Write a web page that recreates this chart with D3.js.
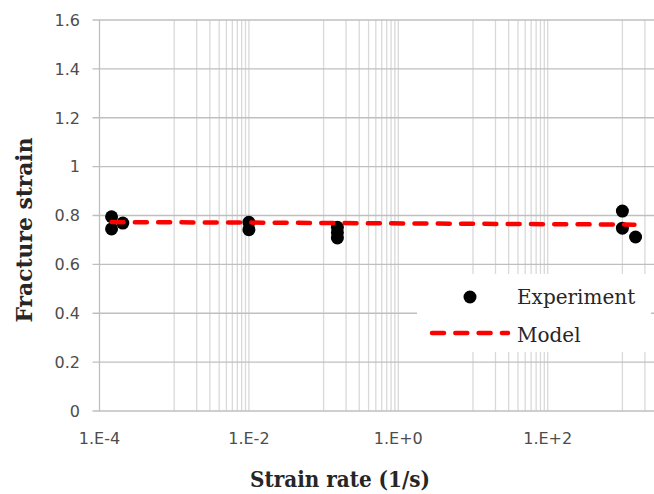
<!DOCTYPE html>
<html>
<head>
<meta charset="utf-8">
<script src="https://cdn.jsdelivr.net/npm/d3@7/dist/d3.min.js"></script>
<style>
  html, body { margin: 0; padding: 0; background: #ffffff; }
  svg { display: block; }
</style>
</head>
<body>
<div id="chart"></div>
<script>
// ---- data ----
const expRate   = [1.45e-4, 1.45e-4, 2.05e-4, 1.0e-2, 1.0e-2, 0.153, 0.153, 0.153, 1.0e3, 1.0e3, 1.5e3];
const expStrain = [0.795,   0.745,   0.769,   0.772,  0.742,  0.752, 0.730, 0.708, 0.818, 0.748, 0.712];
const modelRate   = [1.45e-4, 1.0e-2, 0.153, 1.0e3, 1.45e3];
const modelStrain = [0.773,   0.771,  0.769, 0.763, 0.762];
const xTickValues = [1e-4, 1e-2, 1e0, 1e2];
const xTickLabels = ["1.E-4", "1.E-2", "1.E+0", "1.E+2"];
const yTickValues = [0, 0.2, 0.4, 0.6, 0.8, 1, 1.2, 1.4, 1.6];
const legendNames = ["Experiment", "Model"];
const xTitle = "Strain rate (1/s)";
const yTitle = "Fracture strain";

// ---- layout ----
const W = 654, H = 494;
const plotLeft = 99.5, plotTop = 20, plotBottom = 411;
const decade = 74.7;
const plotRight = plotLeft + 8 * decade;

const svg = d3.select("#chart").append("svg")
  .attr("width", W).attr("height", H)
  .style("background", "#ffffff");

const x = d3.scaleLog().domain([1e-4, 1e4]).range([plotLeft, plotRight]);
const y = d3.scaleLinear().domain([0, 1.6]).range([plotBottom, plotTop]);

// vertical gridlines (log base 100 -> minor lines in odd decades)
const vLines = [];
for (let e = -4; e <= 4; e += 2) vLines.push(Math.pow(10, e));
for (let e = -3; e <= 3; e += 2) for (let k = 1; k <= 9; k++) vLines.push(k * Math.pow(10, e));

svg.append("g").selectAll("line").data(vLines.filter(v => v > 1e-4)).join("line")
  .attr("x1", d => x(d)).attr("x2", d => x(d))
  .attr("y1", y(1.6)).attr("y2", y(0))
  .attr("stroke", "#d9d9d9").attr("stroke-width", 1.3);

// horizontal gridlines with outward ticks
svg.append("g").selectAll("line").data(yTickValues).join("line")
  .attr("x1", plotLeft - 7).attr("x2", plotRight)
  .attr("y1", d => y(d)).attr("y2", d => y(d))
  .attr("stroke", "#bfbfbf").attr("stroke-width", 1.3);

// left axis line
svg.append("line")
  .attr("x1", plotLeft).attr("x2", plotLeft)
  .attr("y1", y(1.6)).attr("y2", y(0))
  .attr("stroke", "#bfbfbf").attr("stroke-width", 1.3);

// y tick labels
svg.append("g").selectAll("text").data(yTickValues).join("text")
  .attr("x", 80).attr("y", d => y(d))
  .attr("dy", "0.36em")
  .attr("text-anchor", "end")
  .attr("font-family", "DejaVu Sans, sans-serif")
  .attr("font-size", 16)
  .attr("fill", "#4d4d4d")
  .text(d => String(d));

// x tick labels
svg.append("g").selectAll("text").data(xTickValues).join("text")
  .attr("x", d => x(d)).attr("y", 444)
  .attr("text-anchor", "middle")
  .attr("font-family", "DejaVu Sans, sans-serif")
  .attr("font-size", 16)
  .attr("fill", "#4d4d4d")
  .text((d, i) => xTickLabels[i]);

// experiment markers
svg.append("g").selectAll("circle").data(expRate.map((r, i) => [r, expStrain[i]])).join("circle")
  .attr("cx", d => x(d[0])).attr("cy", d => y(d[1]))
  .attr("r", 6.5).attr("fill", "#000000");

// model line
const line = d3.line().x(d => x(d[0])).y(d => y(d[1]));
svg.append("path")
  .datum(modelRate.map((r, i) => [r, modelStrain[i]]))
  .attr("d", line)
  .attr("fill", "none")
  .attr("stroke", "#ff0000").attr("stroke-width", 4.5)
  .attr("stroke-linecap", "round")
  .attr("stroke-dasharray", "12,11.3");

// legend
const lg = svg.append("g");
lg.append("rect").attr("x", 417).attr("y", 274).attr("width", 234).attr("height", 78).attr("fill", "#ffffff");
lg.append("circle").attr("cx", 470).attr("cy", 297).attr("r", 6.5).attr("fill", "#000000");
lg.append("line").attr("x1", 432).attr("x2", 508).attr("y1", 333).attr("y2", 333)
  .attr("stroke", "#ff0000").attr("stroke-width", 4.5)
  .attr("stroke-linecap", "round").attr("stroke-dasharray", "12,11.3");
lg.selectAll("text").data(legendNames).join("text")
  .attr("x", 517).attr("y", (d, i) => i === 0 ? 304 : 341.5)
  .attr("font-family", "DejaVu Serif, serif")
  .attr("font-size", 20)
  .attr("fill", "#262626")
  .text(d => d);

// axis titles
svg.append("text")
  .attr("x", 340).attr("y", 487)
  .attr("text-anchor", "middle")
  .attr("font-family", "DejaVu Serif, serif")
  .attr("font-weight", "bold")
  .attr("font-size", 23)
  .attr("fill", "#262626")
  .attr("textLength", 180).attr("lengthAdjust", "spacingAndGlyphs")
  .text(xTitle);

svg.append("text")
  .attr("transform", "translate(32,230) rotate(-90)")
  .attr("text-anchor", "middle")
  .attr("font-family", "DejaVu Serif, serif")
  .attr("font-weight", "bold")
  .attr("font-size", 23)
  .attr("fill", "#262626")
  .attr("textLength", 185).attr("lengthAdjust", "spacingAndGlyphs")
  .text(yTitle);
</script>
</body>
</html>
